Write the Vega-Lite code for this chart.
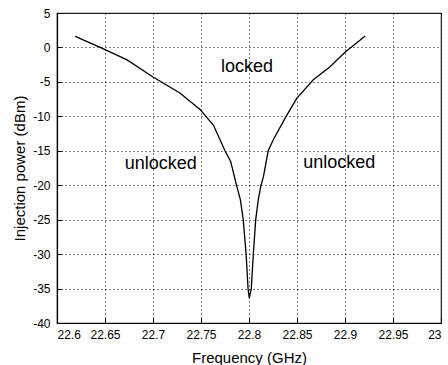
{
  "$schema": "https://vega.github.io/schema/vega-lite/v6.json",
  "width": 384,
  "height": 310,
  "autosize": {"type": "none"},
  "padding": {"left": 57, "top": 13, "right": 7, "bottom": 42},
  "background": "white",
  "config": {
    "view": {"stroke": "#222", "strokeWidth": 1.2},
    "font": "Liberation Sans",
    "axis": {
      "grid": true,
      "gridColor": "#000",
      "gridDash": [1, 3],
      "gridWidth": 1,
      "gridOpacity": 1,
      "domainColor": "#000",
      "domainWidth": 1.2,
      "tickColor": "#000",
      "tickSize": -5,
      "labelFont": "Liberation Sans",
      "labelFontSize": 12,
      "labelColor": "#000",
      "labelOverlap": false,
      "titleFont": "Liberation Sans",
      "titleFontSize": 15,
      "titleFontWeight": "normal",
      "titleColor": "#000"
    }
  },
  "encoding": {
    "x": {
      "field": "freq",
      "type": "quantitative",
      "scale": {"domain": [22.6, 23], "nice": false, "zero": false},
      "axis": {
        "title": "Frequency (GHz)",
        "values": [22.6, 22.65, 22.7, 22.75, 22.8, 22.85, 22.9, 22.95, 23],
        "labelExpr": "datum.value + ''",
        "labelPadding": 11,
        "titlePadding": 10
      }
    },
    "y": {
      "field": "power",
      "type": "quantitative",
      "scale": {"domain": [-40, 5], "nice": false, "zero": false},
      "axis": {
        "title": "Injection power (dBm)",
        "values": [-40, -35, -30, -25, -20, -15, -10, -5, 0, 5],
        "labelExpr": "datum.value + ''",
        "labelPadding": 12,
        "titlePadding": 5
      }
    }
  },
  "layer": [
    {
      "data": {
        "values": [
          {"freq": 22.619, "power": 1.6},
          {"freq": 22.645, "power": 0.0},
          {"freq": 22.673, "power": -1.8},
          {"freq": 22.700, "power": -4.3},
          {"freq": 22.728, "power": -6.6},
          {"freq": 22.749, "power": -9.0},
          {"freq": 22.763, "power": -11.3},
          {"freq": 22.775, "power": -15.0},
          {"freq": 22.781, "power": -16.6},
          {"freq": 22.787, "power": -20.0},
          {"freq": 22.791, "power": -22.1},
          {"freq": 22.794, "power": -25.0},
          {"freq": 22.797, "power": -30.0},
          {"freq": 22.799, "power": -35.0},
          {"freq": 22.8003, "power": -36.4},
          {"freq": 22.8024, "power": -35.0},
          {"freq": 22.8045, "power": -30.0},
          {"freq": 22.807, "power": -25.0},
          {"freq": 22.8097, "power": -22.1},
          {"freq": 22.8125, "power": -20.0},
          {"freq": 22.815, "power": -18.8},
          {"freq": 22.820, "power": -15.0},
          {"freq": 22.8253, "power": -13.4},
          {"freq": 22.8375, "power": -10.3},
          {"freq": 22.8497, "power": -7.4},
          {"freq": 22.867, "power": -4.7},
          {"freq": 22.8844, "power": -2.8},
          {"freq": 22.900, "power": -0.7},
          {"freq": 22.921, "power": 1.66}
        ]
      },
      "mark": {"type": "line", "color": "#000", "strokeWidth": 1.3}
    },
    {
      "data": {
        "values": [
          {"freq": 22.798, "power": -2.8, "label": "locked"},
          {"freq": 22.708, "power": -16.9, "label": "unlocked"},
          {"freq": 22.894, "power": -16.8, "label": "unlocked"}
        ]
      },
      "mark": {"type": "text", "fontSize": 18, "font": "Liberation Sans", "color": "#000", "baseline": "middle", "align": "center"},
      "encoding": {
        "text": {"field": "label"}
      }
    }
  ]
}
